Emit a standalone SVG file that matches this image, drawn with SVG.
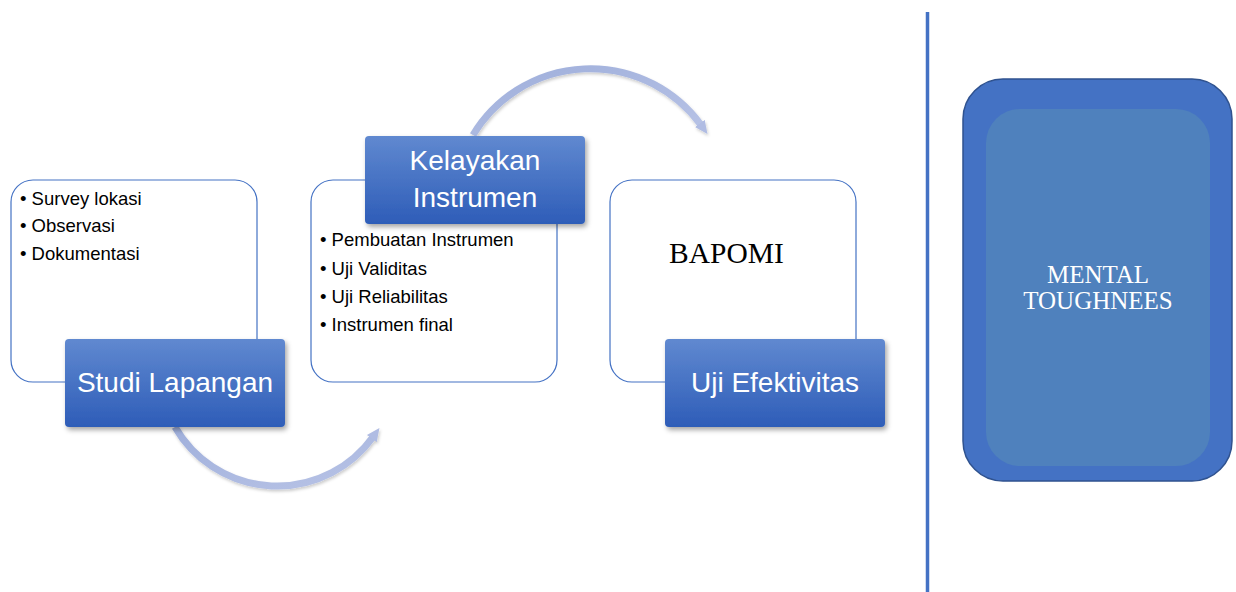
<svg xmlns="http://www.w3.org/2000/svg" width="1236" height="592" viewBox="0 0 1236 592">
<style>
.card{fill:#ffffff;stroke:#4472c4;stroke-width:1.2}
.lbl{fill:url(#lg);filter:url(#sh)}
.lt{font-family:"Liberation Sans",Arial,sans-serif;font-size:28px;fill:#ffffff;text-anchor:middle}
.bt{font-family:"Liberation Sans",Arial,sans-serif;font-size:18.5px;fill:#000000}
.arc{fill:none;stroke:url(#ag);stroke-width:7;filter:url(#ash)}
.tm{font-family:"Liberation Serif","Times New Roman",serif}
</style>
<defs>
<linearGradient id="lg" x1="0" y1="0" x2="0" y2="1">
<stop offset="0" stop-color="#6089d0"/>
<stop offset="1" stop-color="#2e5db8"/>
</linearGradient>
<linearGradient id="ag" x1="0" y1="0" x2="1" y2="1">
<stop offset="0" stop-color="#9fafdb"/>
<stop offset="1" stop-color="#b8c3e6"/>
</linearGradient>
<filter id="sh" x="-10%" y="-10%" width="130%" height="140%">
<feDropShadow dx="2" dy="3" stdDeviation="2.5" flood-color="#000000" flood-opacity="0.35"/>
</filter>
<filter id="ash" x="-10%" y="-10%" width="130%" height="140%">
<feDropShadow dx="1" dy="2" stdDeviation="1.5" flood-color="#000000" flood-opacity="0.2"/>
</filter>
<marker id="ah" markerUnits="userSpaceOnUse" markerWidth="20" markerHeight="20" refX="2" refY="8" orient="auto">
<path d="M0,2 L13,8 L0,14 Z" fill="#b0bce3"/>
</marker>
</defs>
<g id="connectors">
<path class="arc" d="M175,427 A118,118 0 0 0 373,437" marker-end="url(#ah)"/>
<path class="arc" d="M473,135 A137,137 0 0 1 701,125" marker-end="url(#ah)"/>
<line x1="927.5" y1="12" x2="927.5" y2="592" stroke="#4472c4" stroke-width="3.5"/>
</g>
<g id="studi-lapangan">
<rect class="card" x="11" y="180" width="246" height="202" rx="22"/>
<text class="bt" x="20" y="205">• Survey lokasi</text>
<text class="bt" x="20" y="232">• Observasi</text>
<text class="bt" x="20" y="260">• Dokumentasi</text>
<rect class="lbl" x="65" y="339" width="220" height="88" rx="4"/>
<text class="lt" x="175" y="392">Studi Lapangan</text>
</g>
<g id="kelayakan-instrumen">
<rect class="card" x="311" y="180" width="246" height="202" rx="22"/>
<text class="bt" x="320" y="246">• Pembuatan Instrumen</text>
<text class="bt" x="320" y="275">• Uji Validitas</text>
<text class="bt" x="320" y="303">• Uji Reliabilitas</text>
<text class="bt" x="320" y="331">• Instrumen final</text>
<rect class="lbl" x="365" y="136" width="220" height="88" rx="4"/>
<text class="lt" x="475" y="170">Kelayakan</text>
<text class="lt" x="475" y="207">Instrumen</text>
</g>
<g id="uji-efektivitas">
<rect class="card" x="610" y="180" width="246" height="202" rx="22"/>
<text class="tm" x="669" y="263" font-size="29.5" fill="#000000">BAPOMI</text>
<rect class="lbl" x="665" y="339" width="220" height="88" rx="4"/>
<text class="lt" x="775" y="392">Uji Efektivitas</text>
</g>
<g id="mental-toughnees">
<rect x="963" y="79" width="269" height="402" rx="40" fill="#4472c4" stroke="#2f528f" stroke-width="1.5"/>
<rect x="986" y="109" width="224" height="357" rx="34" fill="#4f81bd"/>
<text class="tm" x="1098" y="283" font-size="25" fill="#ffffff" text-anchor="middle">MENTAL</text>
<text class="tm" x="1098" y="309" font-size="25" fill="#ffffff" text-anchor="middle">TOUGHNEES</text>
</g>
</svg>
